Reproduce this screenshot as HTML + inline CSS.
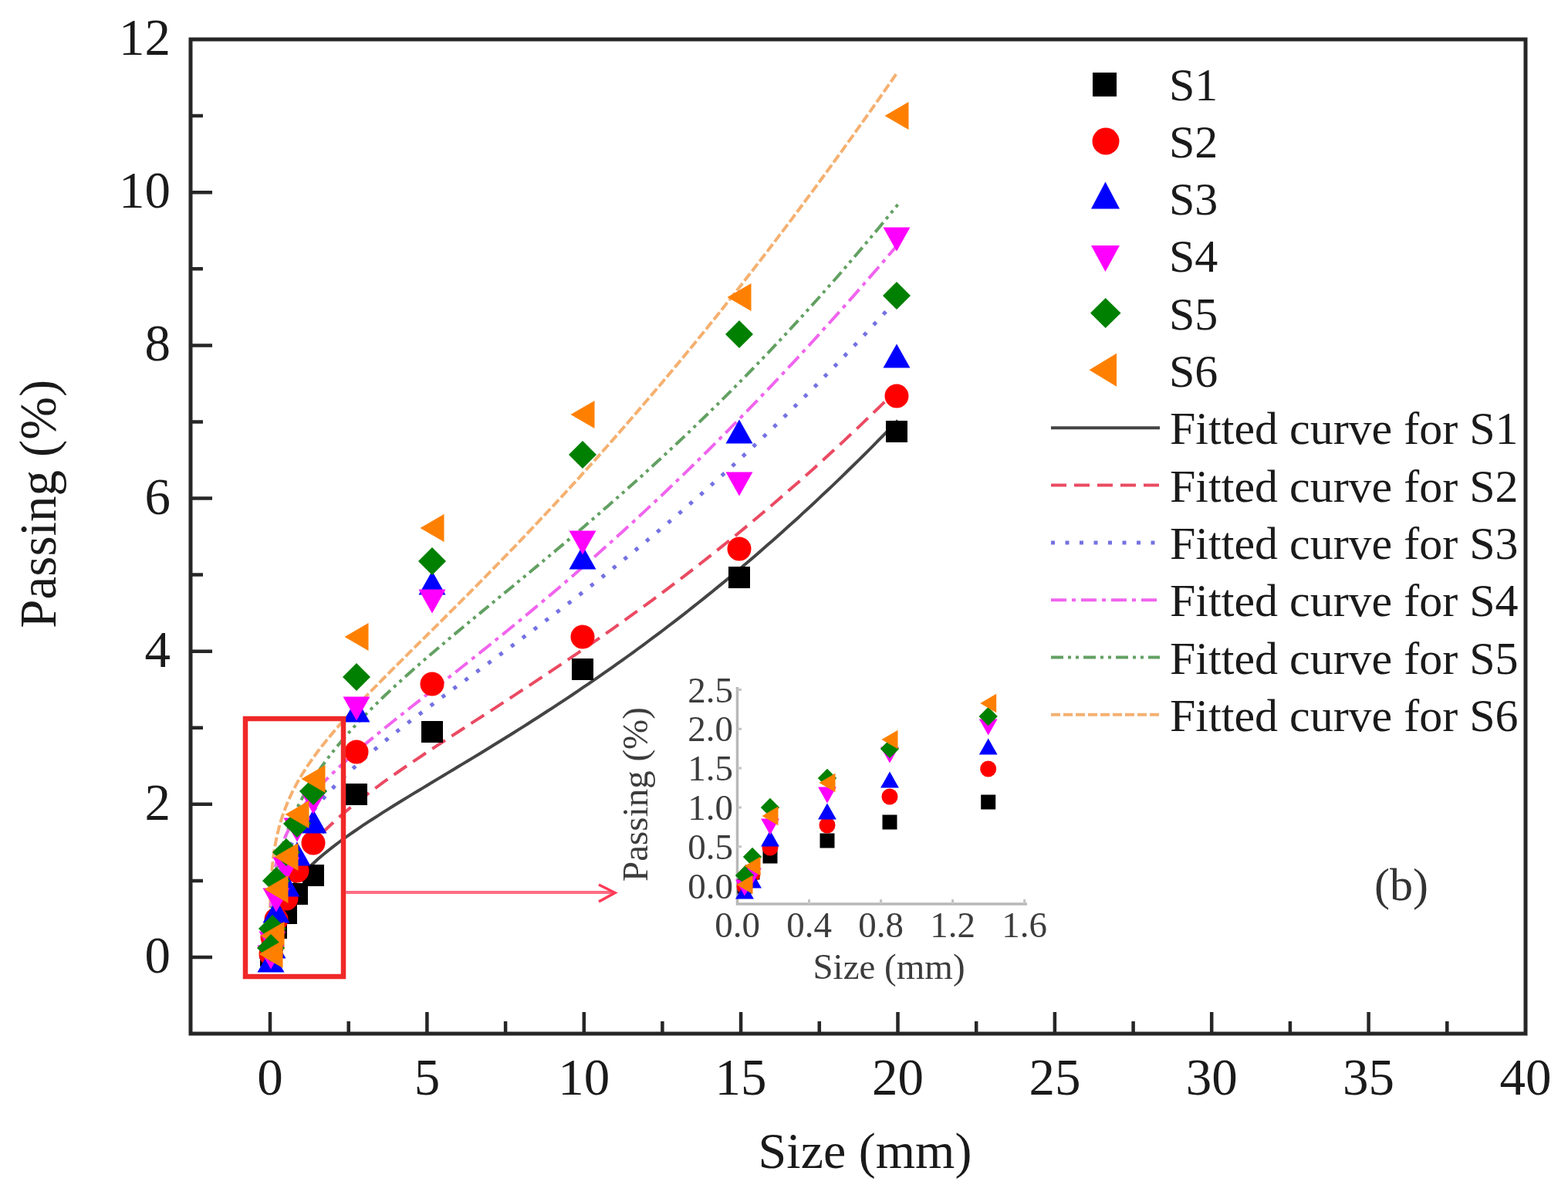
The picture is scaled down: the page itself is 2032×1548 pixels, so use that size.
<!DOCTYPE html>
<html><head><meta charset="utf-8"><title>Passing vs Size</title>
<style>html,body{margin:0;padding:0;background:#fff;width:2032px;height:1548px;overflow:hidden}</style>
</head><body>
<svg width="2032" height="1548" viewBox="0 0 2032 1548" style="display:block;font-family:'Liberation Serif','Times New Roman',serif">
<rect width="2032" height="1548" fill="#fff"/>
<g fill="none" stroke-linejoin="round">
<path d="M350.0,1240.0 L350.0,1229.8 L350.0,1222.7 L350.0,1216.4 L350.0,1210.5 L350.0,1205.1 L350.0,1199.9 L350.1,1194.8 L350.1,1190.0 L350.1,1185.3 L350.2,1180.7 L350.3,1176.2 L350.3,1171.8 L350.4,1167.5 L350.5,1163.3 L350.7,1159.1 L350.8,1155.0 L351.0,1151.0 L351.2,1147.0 L351.4,1143.1 L351.6,1139.2 L351.8,1135.4 L352.1,1131.6 L352.4,1127.8 L352.7,1124.1 L353.1,1120.4 L353.5,1116.8 L353.9,1113.2 L354.3,1109.6 L354.8,1106.0 L355.3,1102.5 L355.9,1098.9 L356.5,1095.5 L357.1,1092.0 L357.8,1088.5 L358.5,1085.1 L359.2,1081.7 L360.0,1078.2 L360.9,1074.9 L361.7,1071.5 L362.7,1068.1 L363.6,1064.7 L364.7,1061.4 L365.7,1058.0 L366.9,1054.7 L368.0,1051.4 L369.3,1048.0 L370.6,1044.7 L371.9,1041.4 L373.3,1038.0 L374.8,1034.7 L376.3,1031.4 L377.8,1028.1 L379.5,1024.7 L381.2,1021.4 L383.0,1018.0 L384.8,1014.6 L386.7,1011.3 L388.6,1007.9 L390.7,1004.5 L392.7,1001.1 L399.2,991.2 L405.7,981.8 L412.1,973.0 L418.6,964.7 L425.1,956.7 L431.6,948.9 L438.0,941.4 L444.5,934.1 L451.0,926.9 L457.5,919.9 L464.0,912.9 L470.4,906.1 L476.9,899.4 L483.4,892.7 L489.9,886.1 L496.3,879.5 L502.8,873.0 L509.3,866.5 L515.8,860.0 L522.3,853.6 L528.7,847.2 L535.2,840.7 L541.7,834.3 L548.2,827.9 L554.6,821.5 L561.1,815.1 L567.6,808.6 L574.1,802.2 L580.5,795.8 L587.0,789.3 L593.5,782.8 L600.0,776.4 L606.5,769.9 L612.9,763.3 L619.4,756.8 L625.9,750.2 L632.4,743.6 L638.8,737.0 L645.3,730.4 L651.8,723.7 L658.3,717.0 L664.8,710.3 L671.2,703.6 L677.7,696.8 L684.2,690.0 L690.7,683.2 L697.1,676.3 L703.6,669.4 L710.1,662.5 L716.6,655.6 L723.0,648.6 L729.5,641.6 L736.0,634.5 L742.5,627.4 L749.0,620.3 L755.4,613.2 L761.9,606.0 L768.4,598.8 L774.9,591.6 L781.3,584.3 L787.8,577.0 L794.3,569.6 L800.8,562.3 L807.3,554.8 L813.7,547.4 L820.2,539.9 L826.7,532.4 L833.2,524.8 L839.6,517.3 L846.1,509.6 L852.6,502.0 L859.1,494.3 L865.5,486.6 L872.0,478.8 L878.5,471.0 L885.0,463.2 L891.5,455.3 L897.9,447.4 L904.4,439.5 L910.9,431.5 L917.4,423.5 L923.8,415.4 L930.3,407.4 L936.8,399.2 L943.3,391.1 L949.8,382.9 L956.2,374.7 L962.7,366.4 L969.2,358.1 L975.7,349.8 L982.1,341.4 L988.6,333.0 L995.1,324.6 L1001.6,316.1 L1008.0,307.6 L1014.5,299.1 L1021.0,290.5 L1027.5,281.9 L1034.0,273.2 L1040.4,264.6 L1046.9,255.8 L1053.4,247.1 L1059.9,238.3 L1066.3,229.5 L1072.8,220.6 L1079.3,211.7 L1085.8,202.8 L1092.3,193.8 L1098.7,184.8 L1105.2,175.8 L1111.7,166.7 L1118.2,157.6 L1124.6,148.5 L1131.1,139.3 L1137.6,130.1 L1144.1,120.9 L1150.5,111.6 L1157.0,102.3 L1163.5,92.9" stroke="#f5b070" stroke-width="4" stroke-dasharray="12 4"/>
<path d="M350.0,1240.0 L350.0,1237.9 L350.0,1235.4 L350.0,1232.7 L350.0,1230.0 L350.0,1227.1 L350.0,1224.2 L350.1,1221.2 L350.1,1218.2 L350.1,1215.1 L350.2,1212.0 L350.3,1208.9 L350.3,1205.7 L350.4,1202.5 L350.5,1199.2 L350.7,1196.0 L350.8,1192.7 L351.0,1189.3 L351.2,1186.0 L351.4,1182.6 L351.6,1179.2 L351.8,1175.8 L352.1,1172.4 L352.4,1168.9 L352.7,1165.5 L353.1,1162.0 L353.5,1158.5 L353.9,1155.0 L354.3,1151.5 L354.8,1147.9 L355.3,1144.3 L355.9,1140.8 L356.5,1137.2 L357.1,1133.6 L357.8,1130.0 L358.5,1126.3 L359.2,1122.7 L360.0,1119.0 L360.9,1115.4 L361.7,1111.7 L362.7,1108.0 L363.6,1104.3 L364.7,1100.6 L365.7,1096.9 L366.9,1093.1 L368.0,1089.4 L369.3,1085.6 L370.6,1081.8 L371.9,1078.1 L373.3,1074.3 L374.8,1070.5 L376.3,1066.6 L377.8,1062.8 L379.5,1059.0 L381.2,1055.1 L383.0,1051.3 L384.8,1047.4 L386.7,1043.5 L388.6,1039.6 L390.7,1035.7 L392.7,1031.9 L399.2,1020.5 L405.7,1009.9 L412.1,1000.0 L418.6,990.7 L425.1,981.9 L431.6,973.5 L438.0,965.5 L444.5,957.7 L451.0,950.3 L457.5,943.0 L464.0,936.0 L470.4,929.2 L476.9,922.5 L483.4,916.0 L489.9,909.6 L496.3,903.3 L502.8,897.2 L509.3,891.1 L515.8,885.1 L522.3,879.2 L528.7,873.4 L535.2,867.7 L541.7,862.0 L548.2,856.3 L554.6,850.7 L561.1,845.2 L567.6,839.7 L574.1,834.2 L580.5,828.7 L587.0,823.3 L593.5,817.9 L600.0,812.5 L606.5,807.1 L612.9,801.8 L619.4,796.5 L625.9,791.1 L632.4,785.8 L638.8,780.5 L645.3,775.1 L651.8,769.8 L658.3,764.5 L664.8,759.2 L671.2,753.8 L677.7,748.5 L684.2,743.2 L690.7,737.8 L697.1,732.4 L703.6,727.0 L710.1,721.6 L716.6,716.2 L723.0,710.8 L729.5,705.4 L736.0,699.9 L742.5,694.4 L749.0,688.9 L755.4,683.4 L761.9,677.8 L768.4,672.3 L774.9,666.7 L781.3,661.0 L787.8,655.4 L794.3,649.7 L800.8,644.0 L807.3,638.3 L813.7,632.5 L820.2,626.7 L826.7,620.9 L833.2,615.1 L839.6,609.2 L846.1,603.3 L852.6,597.3 L859.1,591.4 L865.5,585.3 L872.0,579.3 L878.5,573.2 L885.0,567.1 L891.5,561.0 L897.9,554.8 L904.4,548.5 L910.9,542.3 L917.4,536.0 L923.8,529.6 L930.3,523.3 L936.8,516.8 L943.3,510.4 L949.8,503.9 L956.2,497.3 L962.7,490.8 L969.2,484.2 L975.7,477.5 L982.1,470.8 L988.6,464.1 L995.1,457.3 L1001.6,450.4 L1008.0,443.6 L1014.5,436.7 L1021.0,429.7 L1027.5,422.7 L1034.0,415.6 L1040.4,408.6 L1046.9,401.4 L1053.4,394.2 L1059.9,387.0 L1066.3,379.7 L1072.8,372.4 L1079.3,365.1 L1085.8,357.7 L1092.3,350.2 L1098.7,342.7 L1105.2,335.1 L1111.7,327.5 L1118.2,319.9 L1124.6,312.2 L1131.1,304.5 L1137.6,296.7 L1144.1,288.8 L1150.5,280.9 L1157.0,273.0 L1163.5,265.0" stroke="#62a062" stroke-width="4" stroke-dasharray="16 6 4 6 4 6"/>
<path d="M350.0,1240.0 L350.0,1233.3 L350.0,1228.1 L350.0,1223.4 L350.0,1219.1 L350.0,1214.9 L350.0,1210.8 L350.1,1206.9 L350.1,1203.1 L350.1,1199.3 L350.2,1195.7 L350.3,1192.1 L350.3,1188.6 L350.4,1185.1 L350.5,1181.6 L350.7,1178.2 L350.8,1174.9 L351.0,1171.6 L351.2,1168.3 L351.4,1165.1 L351.6,1161.9 L351.8,1158.7 L352.1,1155.5 L352.4,1152.4 L352.7,1149.3 L353.1,1146.2 L353.5,1143.1 L353.9,1140.1 L354.3,1137.1 L354.8,1134.1 L355.3,1131.1 L355.9,1128.1 L356.5,1125.1 L357.1,1122.2 L357.8,1119.2 L358.5,1116.3 L359.2,1113.4 L360.0,1110.5 L360.9,1107.6 L361.7,1104.7 L362.7,1101.9 L363.6,1099.0 L364.7,1096.1 L365.7,1093.3 L366.9,1090.4 L368.0,1087.6 L369.3,1084.8 L370.6,1081.9 L371.9,1079.1 L373.3,1076.2 L374.8,1073.4 L376.3,1070.6 L377.8,1067.7 L379.5,1064.9 L381.2,1062.0 L383.0,1059.2 L384.8,1056.3 L386.7,1053.5 L388.6,1050.6 L390.7,1047.7 L392.7,1044.9 L399.2,1036.5 L405.7,1028.7 L412.1,1021.3 L418.6,1014.4 L425.1,1007.7 L431.6,1001.3 L438.0,995.1 L444.5,989.1 L451.0,983.3 L457.5,977.5 L464.0,971.9 L470.4,966.4 L476.9,960.9 L483.4,955.6 L489.9,950.2 L496.3,945.0 L502.8,939.7 L509.3,934.5 L515.8,929.4 L522.3,924.2 L528.7,919.1 L535.2,914.0 L541.7,908.9 L548.2,903.8 L554.6,898.7 L561.1,893.6 L567.6,888.5 L574.1,883.5 L580.5,878.4 L587.0,873.3 L593.5,868.2 L600.0,863.0 L606.5,857.9 L612.9,852.8 L619.4,847.6 L625.9,842.4 L632.4,837.2 L638.8,832.0 L645.3,826.8 L651.8,821.6 L658.3,816.3 L664.8,811.0 L671.2,805.7 L677.7,800.4 L684.2,795.0 L690.7,789.6 L697.1,784.2 L703.6,778.8 L710.1,773.3 L716.6,767.9 L723.0,762.4 L729.5,756.8 L736.0,751.3 L742.5,745.7 L749.0,740.1 L755.4,734.4 L761.9,728.7 L768.4,723.0 L774.9,717.3 L781.3,711.6 L787.8,705.8 L794.3,700.0 L800.8,694.1 L807.3,688.2 L813.7,682.3 L820.2,676.4 L826.7,670.4 L833.2,664.4 L839.6,658.4 L846.1,652.4 L852.6,646.3 L859.1,640.2 L865.5,634.0 L872.0,627.8 L878.5,621.6 L885.0,615.4 L891.5,609.1 L897.9,602.8 L904.4,596.5 L910.9,590.1 L917.4,583.7 L923.8,577.3 L930.3,570.8 L936.8,564.3 L943.3,557.8 L949.8,551.2 L956.2,544.7 L962.7,538.0 L969.2,531.4 L975.7,524.7 L982.1,518.0 L988.6,511.2 L995.1,504.5 L1001.6,497.6 L1008.0,490.8 L1014.5,483.9 L1021.0,477.0 L1027.5,470.1 L1034.0,463.1 L1040.4,456.1 L1046.9,449.1 L1053.4,442.0 L1059.9,434.9 L1066.3,427.7 L1072.8,420.6 L1079.3,413.4 L1085.8,406.2 L1092.3,398.9 L1098.7,391.6 L1105.2,384.3 L1111.7,376.9 L1118.2,369.5 L1124.6,362.1 L1131.1,354.6 L1137.6,347.2 L1144.1,339.6 L1150.5,332.1 L1157.0,324.5 L1163.5,316.9" stroke="#f064ee" stroke-width="4" stroke-dasharray="20 7 5 7"/>
<path d="M350.0,1240.0 L350.0,1238.0 L350.0,1235.8 L350.0,1233.4 L350.0,1231.0 L350.0,1228.6 L350.0,1226.0 L350.1,1223.5 L350.1,1220.9 L350.1,1218.3 L350.2,1215.7 L350.3,1213.0 L350.3,1210.3 L350.4,1207.6 L350.5,1204.9 L350.7,1202.2 L350.8,1199.4 L351.0,1196.7 L351.2,1193.9 L351.4,1191.1 L351.6,1188.3 L351.8,1185.4 L352.1,1182.6 L352.4,1179.8 L352.7,1176.9 L353.1,1174.0 L353.5,1171.2 L353.9,1168.3 L354.3,1165.4 L354.8,1162.5 L355.3,1159.6 L355.9,1156.6 L356.5,1153.7 L357.1,1150.8 L357.8,1147.8 L358.5,1144.8 L359.2,1141.9 L360.0,1138.9 L360.9,1135.9 L361.7,1132.9 L362.7,1129.9 L363.6,1126.9 L364.7,1123.9 L365.7,1120.9 L366.9,1117.8 L368.0,1114.8 L369.3,1111.8 L370.6,1108.7 L371.9,1105.6 L373.3,1102.6 L374.8,1099.5 L376.3,1096.4 L377.8,1093.3 L379.5,1090.2 L381.2,1087.0 L383.0,1083.9 L384.8,1080.8 L386.7,1077.6 L388.6,1074.5 L390.7,1071.3 L392.7,1068.2 L399.2,1058.9 L405.7,1050.3 L412.1,1042.3 L418.6,1034.7 L425.1,1027.5 L431.6,1020.5 L438.0,1013.9 L444.5,1007.5 L451.0,1001.3 L457.5,995.3 L464.0,989.5 L470.4,983.7 L476.9,978.1 L483.4,972.6 L489.9,967.3 L496.3,961.9 L502.8,956.7 L509.3,951.6 L515.8,946.4 L522.3,941.4 L528.7,936.4 L535.2,931.4 L541.7,926.5 L548.2,921.6 L554.6,916.8 L561.1,911.9 L567.6,907.1 L574.1,902.3 L580.5,897.5 L587.0,892.8 L593.5,888.0 L600.0,883.3 L606.5,878.5 L612.9,873.8 L619.4,869.0 L625.9,864.3 L632.4,859.5 L638.8,854.8 L645.3,850.0 L651.8,845.3 L658.3,840.5 L664.8,835.7 L671.2,830.9 L677.7,826.1 L684.2,821.3 L690.7,816.4 L697.1,811.6 L703.6,806.7 L710.1,801.8 L716.6,796.9 L723.0,792.0 L729.5,787.0 L736.0,782.1 L742.5,777.1 L749.0,772.1 L755.4,767.0 L761.9,762.0 L768.4,756.9 L774.9,751.8 L781.3,746.7 L787.8,741.5 L794.3,736.3 L800.8,731.1 L807.3,725.9 L813.7,720.6 L820.2,715.3 L826.7,710.0 L833.2,704.7 L839.6,699.3 L846.1,693.9 L852.6,688.4 L859.1,683.0 L865.5,677.5 L872.0,671.9 L878.5,666.4 L885.0,660.8 L891.5,655.1 L897.9,649.5 L904.4,643.8 L910.9,638.1 L917.4,632.3 L923.8,626.5 L930.3,620.7 L936.8,614.8 L943.3,608.9 L949.8,603.0 L956.2,597.0 L962.7,591.0 L969.2,585.0 L975.7,578.9 L982.1,572.8 L988.6,566.7 L995.1,560.5 L1001.6,554.3 L1008.0,548.0 L1014.5,541.7 L1021.0,535.4 L1027.5,529.0 L1034.0,522.6 L1040.4,516.2 L1046.9,509.7 L1053.4,503.2 L1059.9,496.7 L1066.3,490.1 L1072.8,483.5 L1079.3,476.8 L1085.8,470.1 L1092.3,463.3 L1098.7,456.6 L1105.2,449.7 L1111.7,442.9 L1118.2,436.0 L1124.6,429.0 L1131.1,422.1 L1137.6,415.0 L1144.1,408.0 L1150.5,400.9 L1157.0,393.8 L1163.5,386.6" stroke="#7472e2" stroke-width="5" stroke-dasharray="5 13.5"/>
<path d="M350.0,1240.0 L350.0,1239.1 L350.0,1238.0 L350.0,1236.6 L350.0,1235.2 L350.0,1233.7 L350.0,1232.1 L350.1,1230.5 L350.1,1228.8 L350.1,1227.1 L350.2,1225.3 L350.3,1223.5 L350.3,1221.6 L350.4,1219.7 L350.5,1217.8 L350.7,1215.8 L350.8,1213.8 L351.0,1211.8 L351.2,1209.8 L351.4,1207.7 L351.6,1205.6 L351.8,1203.5 L352.1,1201.3 L352.4,1199.2 L352.7,1197.0 L353.1,1194.8 L353.5,1192.6 L353.9,1190.3 L354.3,1188.0 L354.8,1185.8 L355.3,1183.5 L355.9,1181.1 L356.5,1178.8 L357.1,1176.4 L357.8,1174.1 L358.5,1171.7 L359.2,1169.3 L360.0,1166.9 L360.9,1164.4 L361.7,1162.0 L362.7,1159.5 L363.6,1157.0 L364.7,1154.5 L365.7,1152.0 L366.9,1149.5 L368.0,1147.0 L369.3,1144.4 L370.6,1141.9 L371.9,1139.3 L373.3,1136.7 L374.8,1134.1 L376.3,1131.5 L377.8,1128.8 L379.5,1126.2 L381.2,1123.5 L383.0,1120.8 L384.8,1118.1 L386.7,1115.4 L388.6,1112.7 L390.7,1110.0 L392.7,1107.3 L399.2,1099.3 L405.7,1091.8 L412.1,1084.7 L418.6,1078.1 L425.1,1071.7 L431.6,1065.7 L438.0,1059.8 L444.5,1054.2 L451.0,1048.7 L457.5,1043.3 L464.0,1038.2 L470.4,1033.1 L476.9,1028.1 L483.4,1023.2 L489.9,1018.5 L496.3,1013.7 L502.8,1009.1 L509.3,1004.5 L515.8,1000.0 L522.3,995.5 L528.7,991.1 L535.2,986.7 L541.7,982.3 L548.2,978.0 L554.6,973.7 L561.1,969.4 L567.6,965.1 L574.1,960.8 L580.5,956.6 L587.0,952.4 L593.5,948.2 L600.0,944.0 L606.5,939.8 L612.9,935.6 L619.4,931.4 L625.9,927.2 L632.4,923.0 L638.8,918.8 L645.3,914.6 L651.8,910.4 L658.3,906.1 L664.8,901.9 L671.2,897.7 L677.7,893.4 L684.2,889.2 L690.7,884.9 L697.1,880.6 L703.6,876.3 L710.1,872.0 L716.6,867.7 L723.0,863.3 L729.5,859.0 L736.0,854.6 L742.5,850.2 L749.0,845.8 L755.4,841.3 L761.9,836.9 L768.4,832.4 L774.9,827.9 L781.3,823.4 L787.8,818.8 L794.3,814.3 L800.8,809.7 L807.3,805.1 L813.7,800.4 L820.2,795.7 L826.7,791.0 L833.2,786.3 L839.6,781.6 L846.1,776.8 L852.6,772.0 L859.1,767.2 L865.5,762.3 L872.0,757.4 L878.5,752.5 L885.0,747.6 L891.5,742.6 L897.9,737.6 L904.4,732.6 L910.9,727.5 L917.4,722.4 L923.8,717.3 L930.3,712.1 L936.8,706.9 L943.3,701.7 L949.8,696.5 L956.2,691.2 L962.7,685.9 L969.2,680.5 L975.7,675.1 L982.1,669.7 L988.6,664.3 L995.1,658.8 L1001.6,653.3 L1008.0,647.7 L1014.5,642.1 L1021.0,636.5 L1027.5,630.8 L1034.0,625.2 L1040.4,619.4 L1046.9,613.7 L1053.4,607.9 L1059.9,602.0 L1066.3,596.2 L1072.8,590.3 L1079.3,584.3 L1085.8,578.4 L1092.3,572.4 L1098.7,566.3 L1105.2,560.2 L1111.7,554.1 L1118.2,547.9 L1124.6,541.7 L1131.1,535.5 L1137.6,529.2 L1144.1,522.9 L1150.5,516.6 L1157.0,510.2 L1163.5,503.8" stroke="#ea4a62" stroke-width="4" stroke-dasharray="20 10"/>
<path d="M350.0,1240.0 L350.0,1239.3 L350.0,1238.3 L350.0,1237.2 L350.0,1236.0 L350.0,1234.8 L350.0,1233.5 L350.1,1232.2 L350.1,1230.8 L350.1,1229.3 L350.2,1227.9 L350.3,1226.4 L350.3,1224.9 L350.4,1223.3 L350.5,1221.7 L350.7,1220.1 L350.8,1218.5 L351.0,1216.8 L351.2,1215.2 L351.4,1213.5 L351.6,1211.8 L351.8,1210.0 L352.1,1208.3 L352.4,1206.5 L352.7,1204.7 L353.1,1202.9 L353.5,1201.1 L353.9,1199.3 L354.3,1197.4 L354.8,1195.6 L355.3,1193.7 L355.9,1191.8 L356.5,1189.9 L357.1,1188.0 L357.8,1186.0 L358.5,1184.1 L359.2,1182.1 L360.0,1180.2 L360.9,1178.2 L361.7,1176.2 L362.7,1174.2 L363.6,1172.2 L364.7,1170.1 L365.7,1168.1 L366.9,1166.0 L368.0,1164.0 L369.3,1161.9 L370.6,1159.8 L371.9,1157.7 L373.3,1155.6 L374.8,1153.4 L376.3,1151.3 L377.8,1149.1 L379.5,1147.0 L381.2,1144.8 L383.0,1142.6 L384.8,1140.4 L386.7,1138.2 L388.6,1135.9 L390.7,1133.7 L392.7,1131.5 L399.2,1124.8 L405.7,1118.7 L412.1,1112.8 L418.6,1107.3 L425.1,1102.0 L431.6,1096.9 L438.0,1092.0 L444.5,1087.2 L451.0,1082.5 L457.5,1078.0 L464.0,1073.6 L470.4,1069.2 L476.9,1064.9 L483.4,1060.7 L489.9,1056.6 L496.3,1052.4 L502.8,1048.4 L509.3,1044.3 L515.8,1040.3 L522.3,1036.3 L528.7,1032.4 L535.2,1028.4 L541.7,1024.5 L548.2,1020.6 L554.6,1016.7 L561.1,1012.8 L567.6,1008.9 L574.1,1005.0 L580.5,1001.1 L587.0,997.2 L593.5,993.3 L600.0,989.4 L606.5,985.5 L612.9,981.6 L619.4,977.7 L625.9,973.7 L632.4,969.8 L638.8,965.8 L645.3,961.8 L651.8,957.8 L658.3,953.8 L664.8,949.7 L671.2,945.6 L677.7,941.6 L684.2,937.5 L690.7,933.3 L697.1,929.2 L703.6,925.0 L710.1,920.8 L716.6,916.6 L723.0,912.4 L729.5,908.1 L736.0,903.8 L742.5,899.5 L749.0,895.1 L755.4,890.7 L761.9,886.3 L768.4,881.9 L774.9,877.4 L781.3,872.9 L787.8,868.4 L794.3,863.8 L800.8,859.2 L807.3,854.6 L813.7,850.0 L820.2,845.3 L826.7,840.5 L833.2,835.8 L839.6,831.0 L846.1,826.2 L852.6,821.3 L859.1,816.5 L865.5,811.5 L872.0,806.6 L878.5,801.6 L885.0,796.6 L891.5,791.5 L897.9,786.4 L904.4,781.3 L910.9,776.1 L917.4,770.9 L923.8,765.7 L930.3,760.4 L936.8,755.1 L943.3,749.7 L949.8,744.4 L956.2,738.9 L962.7,733.5 L969.2,728.0 L975.7,722.4 L982.1,716.9 L988.6,711.2 L995.1,705.6 L1001.6,699.9 L1008.0,694.2 L1014.5,688.4 L1021.0,682.6 L1027.5,676.8 L1034.0,670.9 L1040.4,664.9 L1046.9,659.0 L1053.4,653.0 L1059.9,646.9 L1066.3,640.8 L1072.8,634.7 L1079.3,628.6 L1085.8,622.4 L1092.3,616.1 L1098.7,609.8 L1105.2,603.5 L1111.7,597.1 L1118.2,590.7 L1124.6,584.3 L1131.1,577.8 L1137.6,571.2 L1144.1,564.7 L1150.5,558.1 L1157.0,551.4 L1163.5,544.7" stroke="#444" stroke-width="4"/>
</g>
<g>
<rect x="1148.0" y="545.0" width="28.0" height="28.0" fill="#000000"/>
<circle cx="1162.0" cy="513.0" r="15.5" fill="#ff0000"/>
<polygon points="1162.0,445.5 1179.5,476.5 1144.5,476.5" fill="#0000ff"/>
<polygon points="1162.0,325.5 1179.5,294.5 1144.5,294.5" fill="#ff00ff"/>
<polygon points="1162.0,365.0 1180.0,383.0 1162.0,401.0 1144.0,383.0" fill="#008000"/>
<polygon points="1146.5,150.0 1177.5,132.0 1177.5,168.0" fill="#ff8000"/>
<rect x="944.0" y="734.0" width="28.0" height="28.0" fill="#000000"/>
<circle cx="958.0" cy="711.0" r="15.5" fill="#ff0000"/>
<polygon points="958.0,543.5 975.5,574.5 940.5,574.5" fill="#0000ff"/>
<polygon points="958.0,642.5 975.5,611.5 940.5,611.5" fill="#ff00ff"/>
<polygon points="958.0,415.0 976.0,433.0 958.0,451.0 940.0,433.0" fill="#008000"/>
<polygon points="942.5,385.0 973.5,367.0 973.5,403.0" fill="#ff8000"/>
<rect x="741.0" y="853.0" width="28.0" height="28.0" fill="#000000"/>
<circle cx="755.0" cy="825.0" r="15.5" fill="#ff0000"/>
<polygon points="755.0,706.5 772.5,737.5 737.5,737.5" fill="#0000ff"/>
<polygon points="755.0,718.5 772.5,687.5 737.5,687.5" fill="#ff00ff"/>
<polygon points="755.0,571.0 773.0,589.0 755.0,607.0 737.0,589.0" fill="#008000"/>
<polygon points="739.5,537.0 770.5,519.0 770.5,555.0" fill="#ff8000"/>
<rect x="546.0" y="934.0" width="28.0" height="28.0" fill="#000000"/>
<circle cx="560.0" cy="886.0" r="15.5" fill="#ff0000"/>
<polygon points="560.0,739.5 577.5,770.5 542.5,770.5" fill="#0000ff"/>
<polygon points="560.0,794.5 577.5,763.5 542.5,763.5" fill="#ff00ff"/>
<polygon points="560.0,709.0 578.0,727.0 560.0,745.0 542.0,727.0" fill="#008000"/>
<polygon points="544.5,684.0 575.5,666.0 575.5,702.0" fill="#ff8000"/>
<rect x="448.0" y="1015.0" width="28.0" height="28.0" fill="#000000"/>
<circle cx="462.0" cy="974.0" r="15.5" fill="#ff0000"/>
<polygon points="462.0,904.5 479.5,935.5 444.5,935.5" fill="#0000ff"/>
<polygon points="462.0,933.5 479.5,902.5 444.5,902.5" fill="#ff00ff"/>
<polygon points="462.0,859.0 480.0,877.0 462.0,895.0 444.0,877.0" fill="#008000"/>
<polygon points="446.5,825.0 477.5,807.0 477.5,843.0" fill="#ff8000"/>
<rect x="392.0" y="1120.0" width="28.0" height="28.0" fill="#000000"/>
<circle cx="406.0" cy="1092.0" r="15.5" fill="#ff0000"/>
<polygon points="406.0,1048.5 423.5,1079.5 388.5,1079.5" fill="#0000ff"/>
<polygon points="406.0,1054.5 423.5,1023.5 388.5,1023.5" fill="#ff00ff"/>
<polygon points="406.0,1007.0 424.0,1025.0 406.0,1043.0 388.0,1025.0" fill="#008000"/>
<polygon points="390.5,1009.0 421.5,991.0 421.5,1027.0" fill="#ff8000"/>
<rect x="371.0" y="1144.0" width="28.0" height="28.0" fill="#000000"/>
<circle cx="385.0" cy="1128.0" r="15.5" fill="#ff0000"/>
<polygon points="385.0,1090.5 402.5,1121.5 367.5,1121.5" fill="#0000ff"/>
<polygon points="385.0,1090.5 402.5,1059.5 367.5,1059.5" fill="#ff00ff"/>
<polygon points="385.0,1049.0 403.0,1067.0 385.0,1085.0 367.0,1067.0" fill="#008000"/>
<polygon points="369.5,1055.0 400.5,1037.0 400.5,1073.0" fill="#ff8000"/>
<rect x="357.0" y="1169.0" width="28.0" height="28.0" fill="#000000"/>
<circle cx="371.0" cy="1164.0" r="15.5" fill="#ff0000"/>
<polygon points="371.0,1130.5 388.5,1161.5 353.5,1161.5" fill="#0000ff"/>
<polygon points="371.0,1141.5 388.5,1110.5 353.5,1110.5" fill="#ff00ff"/>
<polygon points="371.0,1086.0 389.0,1104.0 371.0,1122.0 353.0,1104.0" fill="#008000"/>
<polygon points="355.5,1110.0 386.5,1092.0 386.5,1128.0" fill="#ff8000"/>
<rect x="344.0" y="1188.0" width="28.0" height="28.0" fill="#000000"/>
<circle cx="358.0" cy="1191.0" r="15.5" fill="#ff0000"/>
<polygon points="358.0,1164.5 375.5,1195.5 340.5,1195.5" fill="#0000ff"/>
<polygon points="358.0,1181.5 375.5,1150.5 340.5,1150.5" fill="#ff00ff"/>
<polygon points="358.0,1123.0 376.0,1141.0 358.0,1159.0 340.0,1141.0" fill="#008000"/>
<polygon points="342.5,1152.0 373.5,1134.0 373.5,1170.0" fill="#ff8000"/>
<rect x="339.0" y="1204.0" width="28.0" height="28.0" fill="#000000"/>
<circle cx="353.0" cy="1214.0" r="15.5" fill="#ff0000"/>
<polygon points="353.0,1210.5 370.5,1241.5 335.5,1241.5" fill="#0000ff"/>
<polygon points="353.0,1237.5 370.5,1206.5 335.5,1206.5" fill="#ff00ff"/>
<polygon points="353.0,1185.0 371.0,1203.0 353.0,1221.0 335.0,1203.0" fill="#008000"/>
<polygon points="337.5,1212.0 368.5,1194.0 368.5,1230.0" fill="#ff8000"/>
<rect x="337.0" y="1224.0" width="28.0" height="28.0" fill="#000000"/>
<circle cx="351.0" cy="1236.0" r="15.5" fill="#ff0000"/>
<polygon points="351.0,1228.5 368.5,1259.5 333.5,1259.5" fill="#0000ff"/>
<polygon points="351.0,1255.5 368.5,1224.5 333.5,1224.5" fill="#ff00ff"/>
<polygon points="351.0,1210.0 369.0,1228.0 351.0,1246.0 333.0,1228.0" fill="#008000"/>
<polygon points="335.5,1236.0 366.5,1218.0 366.5,1254.0" fill="#ff8000"/>
</g>
<rect x="247" y="51" width="1730" height="1288" fill="none" stroke="#262626" stroke-width="5"/>
<path d="M350.0,1339 V1311 M451.7,1339 V1323 M553.4,1339 V1311 M655.1,1339 V1323 M756.8,1339 V1311 M858.4,1339 V1323 M960.1,1339 V1311 M1061.8,1339 V1323 M1163.5,1339 V1311 M1265.2,1339 V1323 M1366.9,1339 V1311 M1468.6,1339 V1323 M1570.2,1339 V1311 M1671.9,1339 V1323 M1773.6,1339 V1311 M1875.3,1339 V1323 M247,1240.0 H275 M247,1140.9 H263 M247,1041.8 H275 M247,942.8 H263 M247,843.7 H275 M247,744.6 H263 M247,645.5 H275 M247,546.4 H263 M247,447.4 H275 M247,348.3 H263 M247,249.2 H275 M247,150.1 H263" stroke="#262626" stroke-width="4.5" fill="none"/>
<g font-size="67" fill="#1a1a1a" text-anchor="middle">
<text x="350.0" y="1418">0</text>
<text x="553.4" y="1418">5</text>
<text x="756.8" y="1418">10</text>
<text x="960.1" y="1418">15</text>
<text x="1163.5" y="1418">20</text>
<text x="1366.9" y="1418">25</text>
<text x="1570.2" y="1418">30</text>
<text x="1773.6" y="1418">35</text>
<text x="1977.0" y="1418">40</text>
</g>
<g font-size="67" fill="#1a1a1a" text-anchor="end">
<text x="221" y="1260.0">0</text>
<text x="221" y="1061.8">2</text>
<text x="221" y="863.7">4</text>
<text x="221" y="665.5">6</text>
<text x="221" y="467.4">8</text>
<text x="221" y="269.2">10</text>
<text x="221" y="71.0">12</text>
</g>
<text x="1121" y="1513" font-size="66" text-anchor="middle" fill="#1a1a1a">Size (mm)</text>
<text transform="translate(72,652.7) rotate(-90)" font-size="67" text-anchor="middle" fill="#1a1a1a">Passing (%)</text>
<g font-size="60" fill="#1a1a1a">
<rect x="1416" y="94" width="31" height="31" fill="#000000"/>
<text x="1515" y="129.5">S1</text>
<circle cx="1433" cy="183" r="17.5" fill="#ff0000"/>
<text x="1515" y="203.8">S2</text>
<polygon points="1432.5,235.5 1451,270.5 1414,270.5" fill="#0000ff"/>
<text x="1515" y="278.1">S3</text>
<polygon points="1432.5,352 1451,318 1414,318" fill="#ff00ff"/>
<text x="1515" y="352.4">S4</text>
<polygon points="1432.7,386 1452.5,405.5 1432.7,425 1413,405.5" fill="#008000"/>
<text x="1515" y="426.7">S5</text>
<polygon points="1411.5,479.2 1447,457.7 1447,500.8" fill="#ff8000"/>
<text x="1515" y="501.0">S6</text>
<path d="M1362,554.3 H1503" fill="none" stroke="#444" stroke-width="4"/>
<text x="1516" y="575.3">Fitted curve for S1</text>
<path d="M1362,628.6 H1503" fill="none" stroke="#ea4a62" stroke-width="4" stroke-dasharray="20 10"/>
<text x="1516" y="649.6">Fitted curve for S2</text>
<path d="M1362,702.9 H1503" fill="none" stroke="#7472e2" stroke-width="5" stroke-dasharray="5 13.5"/>
<text x="1516" y="723.9">Fitted curve for S3</text>
<path d="M1362,777.2 H1503" fill="none" stroke="#f064ee" stroke-width="4" stroke-dasharray="20 7 5 7"/>
<text x="1516" y="798.2">Fitted curve for S4</text>
<path d="M1362,851.5 H1503" fill="none" stroke="#62a062" stroke-width="4" stroke-dasharray="16 6 4 6 4 6"/>
<text x="1516" y="872.5">Fitted curve for S5</text>
<path d="M1362,925.8 H1503" fill="none" stroke="#f5b070" stroke-width="4" stroke-dasharray="12 4"/>
<text x="1516" y="946.8">Fitted curve for S6</text>
</g>
<text x="1781" y="1166" font-size="60" fill="#333">(b)</text>
<rect x="318" y="931" width="127" height="334" fill="none" stroke="#f02828" stroke-width="6.5"/>
<path d="M448,1156 H796" stroke="#ff6b84" stroke-width="4" fill="none"/>
<path d="M776,1146 L797,1156.5 L776,1168" stroke="#ff3a58" stroke-width="3.5" fill="none"/>
<path d="M955.5,890 V1171 H1331" stroke="#b8b8b8" stroke-width="3.5" fill="none"/>
<path d="M1048.5,1171 V1165 M1141.6,1171 V1165 M1234.6,1171 V1165 M1327.7,1171 V1165 M955.5,1147.5 H961 M955.5,1096.7 H961 M955.5,1045.9 H961 M955.5,995.1 H961 M955.5,944.3 H961 M955.5,893.5 H961" stroke="#c4c4c4" stroke-width="3" fill="none"/>
<g font-size="47" fill="#3c3c3c" text-anchor="end">
<text x="950" y="1163.5">0.0</text>
<text x="950" y="1112.7">0.5</text>
<text x="950" y="1061.9">1.0</text>
<text x="950" y="1011.1">1.5</text>
<text x="950" y="960.3">2.0</text>
<text x="950" y="909.5">2.5</text>
</g>
<g font-size="47" fill="#3c3c3c" text-anchor="middle">
<text x="955.5" y="1214">0.0</text>
<text x="1048.5" y="1214">0.4</text>
<text x="1141.6" y="1214">0.8</text>
<text x="1234.6" y="1214">1.2</text>
<text x="1327.7" y="1214">1.6</text>
</g>
<text x="1152" y="1268" font-size="47" text-anchor="middle" fill="#3c3c3c">Size (mm)</text>
<text transform="translate(838.6,1029) rotate(-90)" font-size="47" text-anchor="middle" fill="#3c3c3c">Passing (%)</text>
<rect x="1271.2" y="1029.5" width="19.0" height="19.0" fill="#000000"/>
<circle cx="1280.7" cy="996.0" r="10.5" fill="#ff0000"/>
<polygon points="1280.7,956.5 1292.6,977.5 1268.8,977.5" fill="#0000ff"/>
<polygon points="1280.7,952.5 1292.6,931.5 1268.8,931.5" fill="#ff00ff"/>
<polygon points="1280.7,915.8 1292.9,928.0 1280.7,940.2 1268.5,928.0" fill="#008000"/>
<polygon points="1270.2,911.0 1291.2,898.8 1291.2,923.2" fill="#ff8000"/>
<rect x="1143.5" y="1055.5" width="19.0" height="19.0" fill="#000000"/>
<circle cx="1153.0" cy="1032.0" r="10.5" fill="#ff0000"/>
<polygon points="1153.0,999.5 1164.9,1020.5 1141.1,1020.5" fill="#0000ff"/>
<polygon points="1153.0,988.5 1164.9,967.5 1141.1,967.5" fill="#ff00ff"/>
<polygon points="1153.0,957.8 1165.2,970.0 1153.0,982.2 1140.8,970.0" fill="#008000"/>
<polygon points="1142.5,958.0 1163.5,945.8 1163.5,970.2" fill="#ff8000"/>
<rect x="1062.5" y="1079.5" width="19.0" height="19.0" fill="#000000"/>
<circle cx="1072.0" cy="1069.0" r="10.5" fill="#ff0000"/>
<polygon points="1072.0,1040.5 1083.9,1061.5 1060.1,1061.5" fill="#0000ff"/>
<polygon points="1072.0,1040.5 1083.9,1019.5 1060.1,1019.5" fill="#ff00ff"/>
<polygon points="1072.0,995.8 1084.2,1008.0 1072.0,1020.2 1059.8,1008.0" fill="#008000"/>
<polygon points="1061.5,1014.0 1082.5,1001.8 1082.5,1026.2" fill="#ff8000"/>
<rect x="988.5" y="1099.5" width="19.0" height="19.0" fill="#000000"/>
<circle cx="998.0" cy="1098.0" r="10.5" fill="#ff0000"/>
<polygon points="998.0,1075.5 1009.9,1096.5 986.1,1096.5" fill="#0000ff"/>
<polygon points="998.0,1081.5 1009.9,1060.5 986.1,1060.5" fill="#ff00ff"/>
<polygon points="998.0,1033.8 1010.2,1046.0 998.0,1058.2 985.8,1046.0" fill="#008000"/>
<polygon points="987.5,1057.0 1008.5,1044.8 1008.5,1069.2" fill="#ff8000"/>
<rect x="965.5" y="1120.5" width="19.0" height="19.0" fill="#000000"/>
<circle cx="975.0" cy="1132.0" r="10.5" fill="#ff0000"/>
<polygon points="975.0,1129.5 986.9,1150.5 963.1,1150.5" fill="#0000ff"/>
<polygon points="975.0,1145.5 986.9,1124.5 963.1,1124.5" fill="#ff00ff"/>
<polygon points="975.0,1097.8 987.2,1110.0 975.0,1122.2 962.8,1110.0" fill="#008000"/>
<polygon points="964.5,1122.0 985.5,1109.8 985.5,1134.2" fill="#ff8000"/>
<rect x="955.5" y="1138.5" width="19.0" height="19.0" fill="#000000"/>
<circle cx="965.0" cy="1148.0" r="10.5" fill="#ff0000"/>
<polygon points="965.0,1143.5 976.9,1164.5 953.1,1164.5" fill="#0000ff"/>
<polygon points="965.0,1160.5 976.9,1139.5 953.1,1139.5" fill="#ff00ff"/>
<polygon points="965.0,1121.8 977.2,1134.0 965.0,1146.2 952.8,1134.0" fill="#008000"/>
<polygon points="954.5,1146.0 975.5,1133.8 975.5,1158.2" fill="#ff8000"/>
</svg>
</body></html>
